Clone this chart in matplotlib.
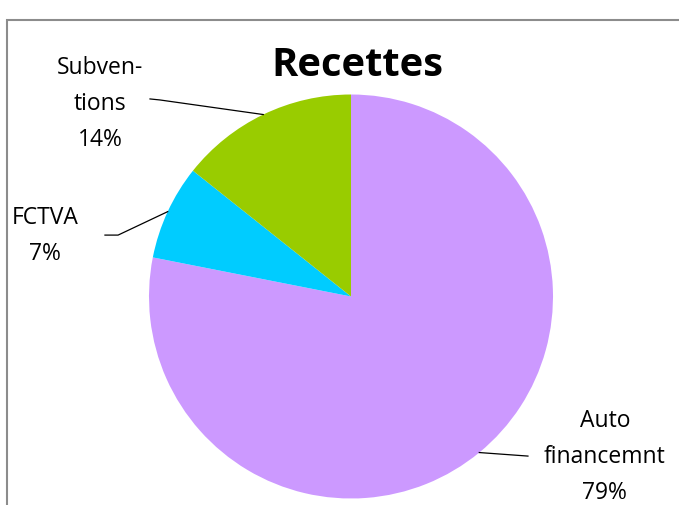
import numpy as np
import matplotlib.pyplot as plt
from matplotlib.patches import Rectangle

# data
labels = ['Auto\nfinancemnt', 'FCTVA', 'Subven-\ntions']
shares = [78.1, 7.6, 14.3]
pct_text = ['79%', '7%', '14%']
colors = ['#CC99FF', '#00CCFF', '#99CC00']

plt.rcParams['font.family'] = ['Open Sans', 'DejaVu Sans']

fig = plt.figure(figsize=(6.79, 5.06), dpi=100)

# chart frame, cut by the image edge on the right and bottom
fig.patches.append(Rectangle((6.5/679, -0.1), 1.2, 1 - 20.5/506 + 0.1, transform=fig.transFigure,
                             fill=False, edgecolor='#8c8c8c', lw=1.5))

ax = fig.add_axes([149/679, 6.5/506, 404/679, 404/506])
wedges, _ = ax.pie(shares, colors=colors, startangle=90, counterclock=False,
                   radius=1, wedgeprops=dict(linewidth=0))
ax.set_xlim(-1, 1)
ax.set_ylim(-1, 1)
ax.axis('off')

# label positions (text centre) and leader elbows, in pie units
text_pos = [(1.257, -0.79), (-1.515, 0.304), (-1.243, 0.958)]
elbows = [[(0.876, -0.79)], [(-1.153, 0.304), (-1.218, 0.304)], [(-0.946, 0.973), (-0.995, 0.978)]]

for w, lab, pct, tp, el in zip(wedges, labels, pct_text, text_pos, elbows):
    mid = np.deg2rad((w.theta1 + w.theta2) / 2)
    pts = [(np.cos(mid), np.sin(mid))] + el
    xs, ys = zip(*pts)
    ax.plot(xs, ys, color='black', lw=0.9, clip_on=False)
    ax.text(tp[0], tp[1], lab + '\n' + pct, ha='center', va='center',
            fontsize=16.5, linespacing=1.66, clip_on=False)

fig.text(357/679, 1 - 66/506, 'Recettes', ha='center', va='center',
         fontsize=28.7, fontweight='bold')

fig.savefig('out.png', dpi=100)
